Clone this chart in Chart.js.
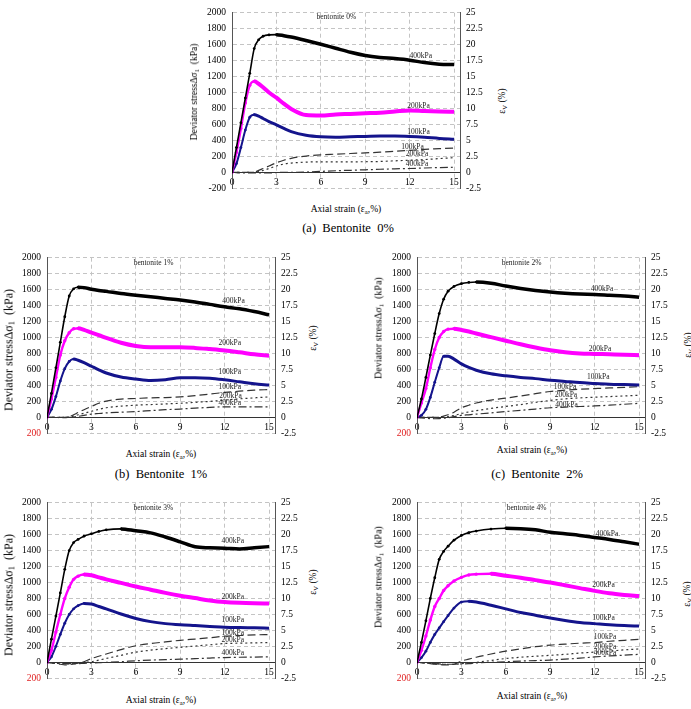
<!DOCTYPE html>
<html>
<head>
<meta charset="utf-8">
<script src="https://cdn.jsdelivr.net/npm/chart.js@4.4.1/dist/chart.umd.min.js"></script>
<style>
  body { margin: 0; background: #fff; }
  #page { position: relative; width: 691px; height: 709px; font-family: "Liberation Serif", "Times New Roman", serif; color: #000; overflow: hidden; }
  #page canvas { position: absolute; }
  .t { position: absolute; white-space: nowrap; transform: translate(-50%, -50%); }
  .rot { transform: translate(-50%, -50%) rotate(-90deg); }
  sub { font-size: 70%; vertical-align: -0.25em; line-height: 0; }
</style>
</head>
<body>
<div id="page"></div>
<script>
// axial strain (%) at which every curve was read
const STRAIN = [0, 0.3, 0.6, 0.9, 1.2, 1.5, 1.8, 2.1, 2.5, 3, 3.5, 4, 5, 6, 7, 8, 9, 10, 11, 12, 13, 14, 15];

// bentonite 0% : deviator stress (kPa) and volumetric strain (%)
const q0_400 = [0, 310, 620, 930, 1240, 1550, 1660, 1705, 1722, 1725, 1712, 1695, 1652, 1605, 1555, 1505, 1465, 1440, 1425, 1405, 1375, 1355, 1350];
const q0_200 = [0, 250, 550, 870, 1090, 1140, 1110, 1065, 1000, 935, 860, 795, 718, 712, 725, 732, 740, 748, 762, 775, 768, 762, 758];
const q0_100 = [0, 110, 310, 530, 690, 722, 705, 675, 635, 595, 550, 510, 465, 445, 440, 445, 450, 455, 455, 450, 440, 425, 415];
const ev0_100 = [0, 0, 0, 0, 0, 0.05, 0.3, 0.6, 1.0, 1.5, 1.9, 2.2, 2.55, 2.75, 2.85, 2.95, 3.05, 3.15, 3.3, 3.45, 3.6, 3.7, 3.8];
const ev0_200 = [0, 0, 0, 0, 0, 0, 0.1, 0.3, 0.6, 1.0, 1.3, 1.45, 1.6, 1.65, 1.65, 1.65, 1.66, 1.7, 1.8, 1.9, 2.0, 2.15, 2.3];
const ev0_400 = [0, -0.05, -0.1, -0.1, -0.1, -0.1, -0.1, -0.1, -0.1, -0.05, 0, 0, 0.05, 0.15, 0.25, 0.32, 0.4, 0.48, 0.55, 0.6, 0.68, 0.75, 0.8];

// bentonite 1%
const q1_400 = [0, 300, 620, 940, 1260, 1520, 1610, 1630, 1625, 1605, 1590, 1578, 1552, 1530, 1510, 1490, 1470, 1445, 1415, 1385, 1360, 1325, 1285];
const q1_200 = [0, 230, 500, 780, 960, 1060, 1110, 1115, 1095, 1060, 1030, 995, 935, 895, 878, 878, 878, 870, 855, 838, 815, 790, 770];
const q1_100 = [0, 100, 260, 455, 610, 700, 730, 715, 685, 640, 595, 555, 505, 480, 462, 472, 495, 497, 490, 470, 445, 420, 405];
const ev1_100 = [0, 0, 0, 0, 0, 0.1, 0.4, 0.75, 1.2, 1.7, 2.2, 2.55, 2.85, 2.95, 3.05, 3.1, 3.2, 3.4, 3.65, 3.9, 4.1, 4.25, 4.35];
const ev1_200 = [0, 0, 0, -0.05, 0, 0.05, 0.2, 0.4, 0.65, 0.95, 1.25, 1.5, 1.75, 1.9, 2.0, 2.1, 2.2, 2.35, 2.5, 2.7, 2.9, 3.05, 3.2];
const ev1_400 = [0, 0, 0, 0, -0.05, 0, 0.05, 0.15, 0.3, 0.5, 0.6, 0.7, 0.8, 0.9, 1.05, 1.2, 1.3, 1.45, 1.55, 1.65, 1.65, 1.65, 1.65];

// bentonite 2%
const q2_400 = [0, 230, 500, 780, 1050, 1300, 1480, 1580, 1640, 1675, 1690, 1695, 1680, 1645, 1615, 1590, 1570, 1555, 1545, 1540, 1530, 1520, 1505];
const q2_200 = [0, 180, 360, 620, 850, 1000, 1075, 1105, 1110, 1095, 1075, 1050, 1005, 960, 915, 875, 840, 815, 800, 795, 790, 785, 778];
const q2_100 = [0, 25, 100, 250, 440, 620, 765, 765, 730, 670, 625, 590, 545, 520, 500, 485, 465, 450, 435, 425, 415, 410, 405];
const ev2_100 = [0, 0, 0, 0, 0, 0.05, 0.2, 0.4, 0.8, 1.5, 1.9, 2.25, 2.7, 3.0, 3.35, 3.7, 4.05, 4.25, 4.4, 4.5, 4.6, 4.7, 4.8];
const ev2_200 = [0, 0, 0, 0, 0, 0, 0, 0.1, 0.3, 0.6, 0.85, 1.05, 1.4, 1.7, 2.0, 2.35, 2.65, 2.9, 3.05, 3.15, 3.25, 3.35, 3.45];
const ev2_400 = [0, -0.1, -0.15, -0.2, -0.22, -0.2, -0.15, -0.05, 0.1, 0.3, 0.4, 0.5, 0.7, 0.9, 1.1, 1.3, 1.5, 1.6, 1.7, 1.78, 1.9, 2.05, 2.2];

// bentonite 3%
const q3_400 = [0, 290, 580, 870, 1165, 1400, 1500, 1540, 1580, 1610, 1640, 1660, 1672, 1648, 1622, 1570, 1510, 1448, 1435, 1430, 1420, 1435, 1450];
const q3_200 = [0, 150, 380, 600, 800, 940, 1040, 1080, 1100, 1090, 1065, 1040, 995, 950, 910, 870, 835, 805, 775, 755, 745, 740, 738];
const q3_100 = [0, 70, 200, 350, 490, 600, 670, 710, 738, 730, 700, 670, 605, 550, 510, 485, 470, 460, 450, 440, 435, 432, 428];
const ev3_100 = [0, -0.1, -0.2, -0.3, -0.4, -0.35, -0.25, -0.1, 0.1, 0.6, 0.95, 1.3, 2.0, 2.6, 2.95, 3.2, 3.45, 3.65, 3.85, 4.1, 4.2, 4.3, 4.35];
const ev3_200 = [0, -0.1, -0.15, -0.2, -0.25, -0.25, -0.2, -0.1, 0, 0.1, 0.35, 0.6, 1.1, 1.6, 1.9, 2.15, 2.35, 2.55, 2.75, 2.95, 3.0, 3.05, 3.1];
const ev3_400 = [0, -0.05, -0.1, -0.15, -0.2, -0.2, -0.2, -0.2, -0.15, -0.1, -0.05, 0, 0.1, 0.25, 0.35, 0.42, 0.5, 0.58, 0.67, 0.75, 0.8, 0.83, 0.85];

// bentonite 4%
const q4_400 = [0, 250, 520, 800, 1060, 1290, 1390, 1455, 1530, 1590, 1625, 1645, 1670, 1680, 1675, 1660, 1630, 1610, 1590, 1565, 1540, 1510, 1480];
const q4_200 = [0, 150, 330, 530, 700, 800, 900, 960, 1020, 1065, 1095, 1105, 1110, 1085, 1060, 1030, 1000, 965, 930, 895, 865, 845, 830];
const q4_100 = [0, 60, 140, 250, 350, 430, 510, 585, 680, 755, 765, 755, 715, 670, 625, 590, 555, 525, 500, 485, 470, 460, 455];
const ev4_100 = [0, -0.05, -0.1, -0.2, -0.3, -0.35, -0.4, -0.4, -0.3, 0.2, 0.5, 0.8, 1.3, 1.75, 2.1, 2.45, 2.7, 2.85, 3.0, 3.1, 3.3, 3.45, 3.6];
const ev4_200 = [0, -0.05, -0.1, -0.15, -0.2, -0.25, -0.3, -0.3, -0.3, -0.2, -0.1, 0, 0.3, 0.6, 0.8, 0.95, 1.1, 1.25, 1.45, 1.6, 1.75, 1.95, 2.1];
const ev4_400 = [0, -0.05, -0.1, -0.15, -0.2, -0.25, -0.3, -0.3, -0.3, -0.25, -0.2, -0.1, 0, 0.1, 0.2, 0.28, 0.35, 0.5, 0.65, 0.85, 1.0, 1.12, 1.25];

// text written inside each plot: [text, strain, kPa]
const LABELS_0 = [['bentonite 0%', 7.05, 1948], ['400kPa', 12.75, 1455], ['200kPa', 12.6, 827], ['100kPa', 12.6, 508], ['100kPa', 12.2, 322], ['200kPa', 12.5, 226], ['400kPa', 12.5, 105]];
const LABELS_1 = [['bentonite 1%', 7.2, 1927], ['400kPa', 12.6, 1455], ['200kPa', 12.35, 927], ['100kPa', 12.35, 568], ['100kPa', 12.35, 375], ['200kPa', 12.4, 262], ['400kPa', 12.35, 173]];
const LABELS_2 = [['bentonite 2%', 7.06, 1927], ['400kPa', 12.5, 1605], ['200kPa', 12.36, 859], ['100kPa', 12.25, 504], ['100kPa', 10.0, 375], ['200kPa', 10.06, 274], ['400kPa', 10.1, 153]];
const LABELS_3 = [['bentonite 3%', 7.18, 1928], ['400kPa', 12.55, 1516], ['200kPa', 12.55, 820], ['100kPa', 12.55, 528], ['100kPa', 12.55, 372], ['200kPa', 12.55, 284], ['400kPa', 12.55, 120]];
const LABELS_4 = [['bentonite 4%', 7.4, 1928], ['400kPa.', 12.9, 1608], ['200kPa', 12.6, 968], ['100kPa', 12.6, 556], ['100kPa', 12.7, 316], ['200kPa', 12.7, 196], ['400kPa', 12.7, 116]];

const CAPTIONS = ['(a)\u00a0 Bentonite\u00a0 0%', '(b)\u00a0 Bentonite\u00a0 1%', '(c)\u00a0 Bentonite\u00a0 2%', '', ''];
const BOTTOM_TICK = ['-200', '200', '200', '200', '200'];
const BOTTOM_TICK_COLOR = ['#000', '#e02020', '#e02020', '#e02020', '#e02020'];

const STRESS_COLORS = ['#000000', '#ff00ff', '#14148c'];
const SERIF = '"Liberation Serif", "Times New Roman", serif';

const PANELS = [
  { q: [q0_400, q0_200, q0_100], ev: [ev0_100, ev0_200, ev0_400], labels: LABELS_0 },
  { q: [q1_400, q1_200, q1_100], ev: [ev1_100, ev1_200, ev1_400], labels: LABELS_1 },
  { q: [q2_400, q2_200, q2_100], ev: [ev2_100, ev2_200, ev2_400], labels: LABELS_2 },
  { q: [q3_400, q3_200, q3_100], ev: [ev3_100, ev3_200, ev3_400], labels: LABELS_3 },
  { q: [q4_400, q4_200, q4_100], ev: [ev4_100, ev4_200, ev4_400], labels: LABELS_4 },
];

// where each plot sits on the page
const LAYOUT = [
  { left: 232, top: 9,   yT: [194, 92, 9.5],  vT: [502, 101], xT: [346, 209], cap: [348, 228] },
  { left: 47,  top: 254, yT: [9, 350, 12],    vT: [313, 338], xT: [161, 454], cap: [161, 474] },
  { left: 417, top: 254, yT: [378, 328, 10],  vT: [688, 345], xT: [532, 450], cap: [537, 474] },
  { left: 47,  top: 499, yT: [9, 595, 12],    vT: [313, 582], xT: [161, 700], cap: null },
  { left: 417, top: 499, yT: [378, 577, 10],  vT: [687, 594], xT: [532, 696], cap: null },
];

const PLOT_W = 228, PLOT_H = 183, AXIS_L = 40, AXIS_R = 32, PAD = 8;

const curveLabels = {
  id: 'curveLabels',
  afterDatasetsDraw(chart, args, opts) {
    const { ctx, scales: { x, y } } = chart;
    ctx.save();
    ctx.font = '7.5px ' + SERIF;
    ctx.fillStyle = '#222';
    ctx.textAlign = 'center';
    ctx.textBaseline = 'middle';
    opts.items.forEach(([t, lx, ly]) => ctx.fillText(t, x.getPixelForValue(lx), y.getPixelForValue(ly)));
    ctx.restore();
  }
};

function stressSet(vals, color, wide, thin, dot) {
  const peak = vals.indexOf(Math.max(...vals));
  return {
    data: STRAIN.map((x, i) => ({ x, y: vals[i] })),
    yAxisID: 'y',
    borderColor: color,
    backgroundColor: color,
    borderWidth: wide,
    cubicInterpolationMode: 'monotone',
    pointRadius: ctx => (ctx.dataIndex <= peak ? dot : 0),
    pointBorderWidth: 0,
    segment: { borderWidth: ctx => (ctx.p1DataIndex <= peak ? thin : wide) },
  };
}

function volSet(vals, dash) {
  return {
    data: STRAIN.map((x, i) => ({ x, y: vals[i] })),
    yAxisID: 'y1',
    borderColor: '#333',
    borderWidth: 1.2,
    borderDash: dash,
    pointRadius: 0,
    cubicInterpolationMode: 'monotone',
  };
}

const page = document.getElementById('page');

function addText(html, x, y, size, cls) {
  const d = document.createElement('div');
  d.className = 't' + (cls ? ' ' + cls : '');
  d.style.left = x + 'px';
  d.style.top = y + 'px';
  d.style.fontSize = size + 'px';
  d.innerHTML = html;
  page.appendChild(d);
}

PANELS.forEach((p, i) => {
  const L = LAYOUT[i];
  const canvas = document.createElement('canvas');
  canvas.width = AXIS_L + PLOT_W + AXIS_R;
  canvas.height = PLOT_H + 2 * PAD;
  canvas.style.left = (L.left - AXIS_L) + 'px';
  canvas.style.top = (L.top - PAD) + 'px';
  page.appendChild(canvas);

  const tickFont = { family: SERIF, size: 9.5 };

  // eslint-disable-next-line no-new
  new Chart(canvas.getContext('2d'), {
    type: 'line',
    data: {
      datasets: [
        stressSet(p.q[0], STRESS_COLORS[0], 3.5, 1.6, 1.4),
        stressSet(p.q[1], STRESS_COLORS[1], 4, 2.4, 1.7),
        stressSet(p.q[2], STRESS_COLORS[2], 3, 2, 1.4),
        volSet(p.ev[0], [8, 4]),
        volSet(p.ev[1], [2, 3]),
        volSet(p.ev[2], [8, 3, 2, 3]),
      ],
    },
    options: {
      responsive: false,
      animation: false,
      devicePixelRatio: 1,
      layout: { padding: { top: PAD, bottom: PAD, left: 0, right: 0 } },
      plugins: {
        legend: { display: false },
        tooltip: { enabled: false },
        curveLabels: { items: p.labels },
      },
      scales: {
        x: {
          type: 'linear',
          min: 0,
          max: 15.4,
          position: { y: 0 },
          ticks: { stepSize: 3, includeBounds: false, font: tickFont, color: '#000', padding: 4, callback: v => String(v) },
          grid: { color: '#c4c4c4', drawTicks: false },
          border: { display: true, color: '#333', width: 1, dash: [4, 3] },
        },
        y: {
          position: 'left',
          min: -200,
          max: 2000,
          ticks: {
            stepSize: 200,
            font: tickFont,
            padding: 6,
            color: ctx => (ctx.tick && ctx.tick.value === -200 ? BOTTOM_TICK_COLOR[i] : '#000'),
            callback: v => (v === -200 ? BOTTOM_TICK[i] : String(v)),
          },
          grid: { color: '#c4c4c4', drawTicks: false },
          border: { display: true, color: '#555', width: 1, dash: [4, 3] },
          afterFit: s => { s.width = AXIS_L; },
        },
        y1: {
          position: 'right',
          min: -2.5,
          max: 25,
          ticks: { stepSize: 2.5, font: tickFont, color: '#000', padding: 6, callback: v => String(v) },
          grid: { drawOnChartArea: false, drawTicks: false },
          border: { display: true, color: '#555', width: 1 },
          afterFit: s => { s.width = AXIS_R; },
        },
      },
    },
    plugins: [curveLabels],
  });

  addText('Deviator stressΔσ<sub>1</sub>\u00a0 (kPa)', L.yT[0], L.yT[1], L.yT[2], 'rot');
  addText('ε<sub>V</sub> (%)', L.vT[0], L.vT[1], 9.5, 'rot');
  addText('Axial strain (ε<sub>a</sub>,%)', L.xT[0], L.xT[1], 9.5);
  if (L.cap) addText(CAPTIONS[i], L.cap[0], L.cap[1], 12.5);
});
</script>
</body>
</html>
